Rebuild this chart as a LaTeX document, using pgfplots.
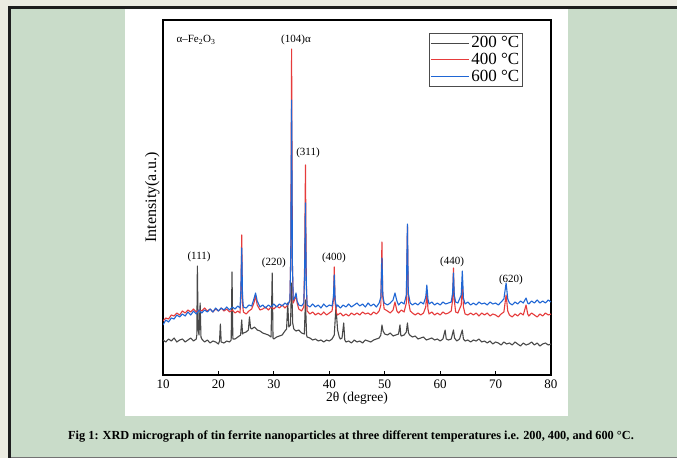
\documentclass[border=0pt]{standalone}
\usepackage{fontspec}
\setmainfont{Liberation Serif}
\usepackage{pgfplots}
\pgfplotsset{compat=1.18}
\definecolor{outerbg}{HTML}{ECECE2}
\definecolor{panelgreen}{HTML}{C9DCC9}
\definecolor{framedark}{HTML}{1E1E1E}
\definecolor{c200}{HTML}{484848}
\definecolor{c400}{HTML}{E63B3B}
\definecolor{c600}{HTML}{1F66D4}

\begin{document}
\begin{tikzpicture}
% page background, green panel and white chart area
\fill[outerbg] (0pt,0pt) rectangle (677pt,458pt);
\fill[panelgreen] (11pt,0pt) rectangle (677pt,450pt);
\fill[framedark] (8pt,0pt) rectangle (11pt,452pt);
\fill[framedark] (8pt,449pt) rectangle (677pt,452pt);
\fill[black!55] (11pt,0pt) rectangle (677pt,1.2pt);
\fill[white] (125pt,42pt) rectangle (568pt,449pt);

\begin{axis}[at={(163pt,83pt)},anchor=south west,scale only axis,
  width=388pt,height=355pt,
  xmin=10,xmax=80,ymin=0,ymax=355,
  xtick={10,20,...,80},ytick=\empty,xtick pos=left,
  major tick length=4pt,tick style={black,line width=0.8pt},
  axis line style={line width=1.1pt},
  /pgf/number format/assume math mode=true,
  tick label style={font=\fontsize{13}{15}\selectfont},
  xticklabel style={yshift=-1pt},
  xlabel={2θ (degree)},
  xlabel style={font=\fontsize{13.5}{15}\selectfont,yshift=3pt},
  ylabel={Intensity(a.u.)},
  ylabel style={font=\fontsize{16}{18}\selectfont},
  legend style={at={(0.686,0.963)},anchor=north west,draw=black!70,
    line width=0.8pt,font=\fontsize{17}{19}\selectfont,inner sep=1pt,
    cells={anchor=west}},
  legend image code/.code={\draw[#1,line width=0.8pt] (0pt,0pt) -- (38pt,0pt);},
  every axis plot/.append style={line width=1.1pt,line join=round},
  clip=true]

% 200 C
\addplot[c200] coordinates {
(10,35)(10.5,33)(11,36)(11.5,34)(12,37)(12.5,33)(13,35)(13.5,36)(14,33)(14.5,35)
(15,37)(15.5,34)(16,36)(16.1,40)(16.2,109)(16.35,45)(16.5,40)(16.7,72)(16.85,38)(17,36)
(17.5,33)(18,35)(18.5,32)(19,34)(19.5,33)(20,31)(20.2,34)(20.35,51)(20.5,33)(21,32)
(21.5,34)(22,33)(22.3,35)(22.45,103)(22.6,36)(23,36)(23.5,38)(24,40)(24.2,55)(24.35,41)
(24.5,42)(25,43)(25.4,45)(25.6,58)(25.8,47)(26,46)(26.5,48)(27,45)(27.5,44)(28,42)
(28.5,41)(29,40)(29.5,38)(29.7,102)(29.85,37)(30,36)(30.5,38)(31,39)(31.5,40)(32,44)
(32.3,46)(32.5,72)(32.7,48)(33,50)(33.2,92)(33.4,52)(33.6,46)(34,44)(34.5,45)(35,42)
(35.5,41)(35.7,75)(35.9,40)(36,38)(36.5,37)(37,35)(37.5,36)(38,34)(38.5,35)(39,33)
(39.5,35)(40,34)(40.5,36)(40.9,40)(41.2,68)(41.5,45)(41.8,38)(42,36)(42.3,37)(42.6,52)
(42.8,35)(43,33)(43.5,34)(44,32)(44.5,35)(45,33)(45.5,34)(46,32)(46.5,35)(47,34)
(47.5,33)(48,35)(48.5,36)(49,37)(49.3,40)(49.5,50)(49.7,44)(50,41)(50.5,40)(51,42)
(51.5,39)(52,40)(52.5,41)(52.75,50)(52.9,40)(53,39)(53.5,40)(53.9,43)(54.1,52)(54.3,42)
(54.5,40)(55,38)(55.5,39)(56,36)(56.5,37)(57,38)(57.5,35)(58,36)(58.5,37)(59,35)
(59.5,36)(60,34)(60.5,36)(60.9,45)(61.1,36)(61.5,35)(62,36)(62.4,45)(62.6,37)(63,34)
(63.5,36)(64,45)(64.2,36)(64.5,34)(65,35)(65.5,33)(66,35)(66.5,34)(67,36)(67.5,33)
(68,34)(68.5,32)(69,34)(69.5,31)(70,33)(70.5,32)(71,30)(71.5,33)(72,31)(72.5,32)
(73,30)(73.5,33)(74,31)(74.5,29)(75,32)(75.5,30)(76,31)(76.5,33)(77,30)(77.5,32)
(78,29)(78.5,31)(79,32)(79.5,30)(80,31)};
\addlegendentry{200 °C}

% 400 C
\addplot[c400] coordinates {
(10,54)(10.5,57)(11,56)(11.5,60)(12,59)(12.5,62)(13,60)(13.5,64)(14,62)(14.5,65)
(15,63)(15.5,66)(16,63)(16.5,65)(17,64)(17.5,67)(18,64)(18.5,66)(19,63)(19.5,66)
(20,64)(20.5,67)(21,64)(21.5,66)(22,63)(22.5,65)(23,62)(23.5,64)(23.9,62)(24.05,80)
(24.2,140)(24.35,72)(24.5,63)(25,61)(25.5,64)(26,66)(26.4,72)(26.7,79)(27,70)(27.5,65)
(28,66)(28.5,68)(29,65)(29.5,68)(30,66)(30.5,69)(31,67)(31.5,70)(32,67)(32.5,70)
(32.9,74)(33.05,120)(33.2,326)(33.35,110)(33.5,72)(33.8,76)(34,80)(34.2,72)(34.5,66)(35,64)
(35.4,68)(35.55,110)(35.7,210)(35.85,95)(36,64)(36.5,61)(37,63)(37.5,60)(38,62)(38.5,60)
(39,63)(39.5,60)(40,62)(40.5,64)(40.75,75)(40.9,108)(41.05,72)(41.3,62)(41.5,60)(42,62)
(42.5,59)(43,61)(43.5,59)(44,62)(44.5,60)(45,62)(45.5,60)(46,63)(46.5,61)(47,62)
(47.5,60)(48,63)(48.5,61)(49,64)(49.3,70)(49.5,133)(49.65,78)(49.9,66)(50.5,64)(51,62)
(51.5,65)(51.85,73)(52.2,64)(52.5,62)(53,65)(53.5,63)(53.9,72)(54.1,149)(54.25,75)(54.6,64)
(55,62)(55.5,60)(56,62)(56.5,60)(57,62)(57.4,68)(57.6,83)(57.8,66)(58,61)(58.5,63)
(59,60)(59.5,62)(60,60)(60.5,63)(61,61)(61.5,62)(62,64)(62.25,75)(62.4,107)(62.55,75)
(62.8,63)(63.2,62)(63.8,70)(64,93)(64.2,68)(64.5,61)(65,60)(65.5,62)(66,60)(66.5,62)
(67,59)(67.5,62)(68,60)(68.5,62)(69,59)(69.5,61)(70,60)(70.5,58)(71,61)(71.5,63)
(71.9,80)(72.2,64)(72.5,60)(73,58)(73.5,61)(74,59)(74.5,62)(75,60)(75.5,70)(75.8,61)
(76,59)(76.5,62)(77,60)(77.5,58)(78,61)(78.5,59)(79,62)(79.5,60)(80,61)};
\addlegendentry{400 °C}

% 600 C
\addplot[c600] coordinates {
(10,50)(10.5,55)(11,53)(11.5,57)(12,56)(12.5,60)(13,58)(13.5,61)(14,59)(14.5,63)
(15,60)(15.5,64)(16,61)(16.5,65)(17,62)(17.5,65)(18,63)(18.5,66)(19,63)(19.5,67)
(20,64)(20.5,67)(21,65)(21.5,68)(22,65)(22.5,68)(23,66)(23.5,69)(23.9,67)(24.05,85)
(24.2,127)(24.35,78)(24.5,68)(25,67)(25.5,70)(26,69)(26.4,76)(26.7,82)(27,74)(27.5,68)
(28,70)(28.5,67)(29,70)(29.5,68)(30,71)(30.5,68)(31,71)(31.5,69)(32,72)(32.5,70)
(32.9,75)(33.05,120)(33.2,275)(33.35,110)(33.5,75)(33.8,78)(34,82)(34.2,74)(34.5,70)(35,69)
(35.4,72)(35.55,100)(35.7,172)(35.85,90)(36,70)(36.5,68)(37,71)(37.5,68)(38,70)(38.5,67)
(39,71)(39.5,68)(40,70)(40.5,69)(40.75,78)(40.9,100)(41.05,75)(41.3,68)(41.5,70)(42,67)
(42.5,70)(43,68)(43.5,71)(44,68)(44.5,70)(45,72)(45.5,69)(46,71)(46.5,68)(47,72)
(47.5,69)(48,71)(48.5,68)(49,72)(49.3,78)(49.5,117)(49.65,80)(49.9,72)(50.5,70)(51,72)
(51.5,75)(51.85,82)(52.2,74)(52.5,70)(53,73)(53.5,71)(53.9,80)(54.1,151)(54.25,82)(54.6,72)
(55,70)(55.5,72)(56,70)(56.5,73)(57,71)(57.4,78)(57.6,90)(57.8,76)(58,71)(58.5,73)
(59,70)(59.5,72)(60,70)(60.5,73)(61,71)(61.5,72)(62,73)(62.25,82)(62.4,102)(62.55,80)
(62.8,73)(63.2,72)(63.8,80)(64,104)(64.2,77)(64.5,71)(65,73)(65.5,70)(66,72)(66.5,70)
(67,73)(67.5,71)(68,72)(68.5,70)(69,73)(69.5,71)(70,72)(70.5,70)(71,73)(71.5,76)
(71.9,92)(72.2,76)(72.5,72)(73,70)(73.5,73)(74,71)(74.5,74)(75,72)(75.5,77)(75.8,72)
(76,71)(76.5,74)(77,72)(77.5,75)(78,72)(78.5,74)(79,72)(79.5,75)(80,73)};
\addlegendentry{600 °C}

% peak labels
\begin{scope}[every node/.style={font=\fontsize{11}{13}\selectfont,inner sep=0pt}]
\node at (axis cs:15.95,335) {α–Fe\textsubscript{2}O\textsubscript{3}};
\node at (axis cs:34.0,335) {(104)α};
\node at (axis cs:36.16,222) {(311)};
\node at (axis cs:30.0,112) {(220)};
\node at (axis cs:16.5,118) {(111)};
\node at (axis cs:40.85,117) {(400)};
\node at (axis cs:62.14,113) {(440)};
\node at (axis cs:72.78,95) {(620)};
\end{scope}
\end{axis}

\node[font=\fontsize{12.3}{14}\selectfont\bfseries] at (351pt,21pt)
  {Fig 1: XRD micrograph of tin ferrite nanoparticles at three different temperatures i.e. 200, 400, and 600 °C.};

\pgfresetboundingbox
\path[use as bounding box] (0pt,0pt) rectangle (677pt,458pt);
\end{tikzpicture}
\end{document}
